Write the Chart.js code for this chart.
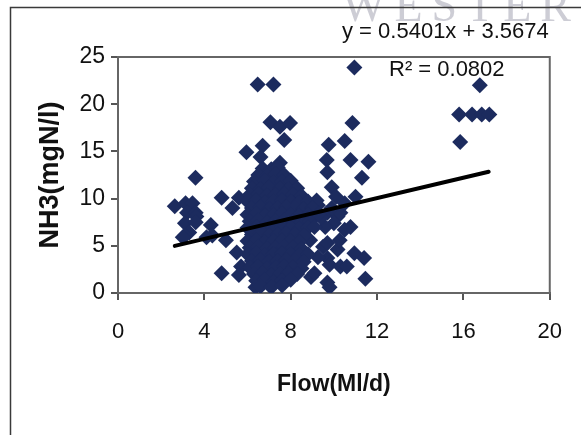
<!DOCTYPE html>
<html><head><meta charset="utf-8">
<script src="https://cdn.jsdelivr.net/npm/chart.js@4/dist/chart.umd.min.js"></script>
<style>html,body{margin:0;padding:0;background:#fff}#wrap{width:581px;height:435px}</style>
</head><body><div id="wrap"><canvas id="c" width="581" height="435"></canvas></div>
<script>
// Tick labels
const xTicks = [0, 4, 8, 12, 16, 20];
const yTicks = [0, 5, 10, 15, 20, 25];

// Scattered (readable) points: flow (Ml/d) and NH3 (mgN/l)
const flowSparse = [2.63,3.13,3.45,3.59,3.2,3.6,3.63,3.1,3.6,3.3,3.1,3.0,4.3,4.37,4.1,4.8,5.3,5.6,5.0,4.8,5.5,5.7,5.6,6.37,
  5.95,6.47,7.2,7.06,7.5,7.97,7.7,6.7,6.6,7.5,
  10.95,10.86,10.5,9.76,9.67,10.77,11.6,9.7,11.3,9.9,11.0,10.1,8.5,9.26,9.7,10.17,10.3,10.77,9.5,9.7,10.17,10.27,10.95,11.4,9.7,9.8,10.3,10.6,11.46,9.7,9.8,8.94,9.1,9.26,8.9,8.35,7.9,
  9.9,10.0,9.6,9.4,10.5,10.5,
  15.8,16.4,16.85,17.2,16.76,15.85];
const nh3Sparse = [9.2,9.5,9.5,12.2,8.5,8.5,8.1,7.4,7.5,6.4,6.1,5.9,7.2,6.1,5.9,10.1,9.0,10.1,5.6,2.1,4.3,2.8,1.9,0.6,
  14.9,22.1,22.1,18.1,17.6,18.0,16.2,15.6,14.4,13.8,
  23.9,18.0,16.1,15.7,14.1,14.1,13.9,12.8,12.2,11.2,10.2,10.2,10.2,9.3,8.5,8.1,8.5,7.0,4.9,5.3,4.6,5.6,4.2,3.7,3.7,3.0,2.8,2.8,1.5,1.1,0.6,1.7,2.1,3.8,5.6,2.4,2.4,
  9.0,7.4,7.0,8.0,9.5,6.7,
  18.9,18.9,18.9,18.9,22.0,16.0];

// Dense cluster (estimated from the solid blob around 6-9 Ml/d)
const flowDense = [6.7,7.1,7.4,
  6.5,6.9,7.3,7.7,
  6.3,6.8,7.2,7.6,8.0,
  6.2,6.6,7.0,7.5,7.9,8.3,
  6.1,6.5,6.9,7.3,7.7,8.1,8.5,
  6.0,6.4,6.8,7.2,7.6,8.0,8.4,8.8,9.2,
  6.2,6.6,7.0,7.4,7.8,8.2,8.6,9.0,
  6.0,6.4,6.8,7.2,7.6,8.0,8.4,8.8,9.3,
  6.1,6.5,6.9,7.3,7.7,8.1,8.5,8.9,
  6.0,6.4,6.8,7.2,7.6,8.0,8.4,8.8,9.1,
  6.2,6.6,7.0,7.4,7.8,8.2,8.6,
  6.0,6.4,6.8,7.2,7.6,8.0,8.4,
  6.1,6.5,6.9,7.3,7.7,8.1,8.5,
  6.0,6.4,6.8,7.2,7.6,8.0,8.4,8.8,
  6.2,6.6,7.0,7.4,7.8,8.2,8.6,
  6.1,6.5,6.9,7.3,7.7,8.1,8.5,
  6.3,6.7,7.1,7.5,7.9,8.3,
  6.4,6.8,7.2,7.6,8.0,
  6.6,7.1,7.6];
const nh3Dense = [13.2,13.1,13.3,
  12.5,12.4,12.6,12.5,
  11.8,11.9,11.7,11.8,11.9,
  11.1,11.0,11.2,11.1,11.0,11.1,
  10.4,10.5,10.3,10.4,10.5,10.4,10.3,
  9.7,9.8,9.6,9.7,9.8,9.7,9.6,9.7,9.8,
  9.0,9.1,8.9,9.0,9.1,9.0,8.9,9.0,
  8.3,8.4,8.2,8.3,8.4,8.3,8.2,8.3,8.4,
  7.6,7.7,7.5,7.6,7.7,7.6,7.5,7.6,
  6.9,7.0,6.8,6.9,7.0,6.9,6.8,6.9,7.0,
  6.2,6.3,6.1,6.2,6.3,6.2,6.1,
  5.5,5.6,5.4,5.5,5.6,5.5,5.4,
  4.8,4.9,4.7,4.8,4.9,4.8,4.7,
  4.1,4.2,4.0,4.1,4.2,4.1,4.0,4.1,
  3.4,3.5,3.3,3.4,3.5,3.4,3.3,
  2.7,2.8,2.6,2.7,2.8,2.7,2.6,
  2.0,2.1,1.9,2.0,2.1,2.0,
  1.3,1.4,1.2,1.3,1.4,
  0.7,0.6,0.8];

// Trendline end points
const trendFlow = [2.63, 17.17];
const trendNH3 = [4.99, 12.84];

const equationText = 'y = 0.5401x + 3.5674';
const r2Text = 'R\u00B2 = 0.0802';
const xTitle = 'Flow(Ml/d)';
const yTitle = 'NH3(mgN/l)';
const watermark = 'WESTERN';

const pts = [];
flowSparse.forEach((f, i) => pts.push({x: f, y: nh3Sparse[i]}));
flowDense.forEach((f, i) => pts.push({x: f, y: nh3Dense[i]}));
const trend = trendFlow.map((f, i) => ({x: f, y: trendNH3[i]}));

const FONT = "'Liberation Sans', Arial, sans-serif";

const decor = {
  id: 'decor',
  beforeDraw(chart) {
    const ctx = chart.ctx;
    ctx.save();
    ctx.fillStyle = '#ffffff';
    ctx.fillRect(0, 0, chart.width, chart.height);
    // watermark
    ctx.font = "46px 'Liberation Serif', serif";
    ctx.fillStyle = 'rgba(130,130,150,0.4)';
    ctx.textBaseline = 'alphabetic';
    try { ctx.letterSpacing = '9px'; } catch (e) {}
    ctx.fillText(watermark, 342, 21);
    try { ctx.letterSpacing = '0px'; } catch (e) {}
    // outer frame
    ctx.strokeStyle = '#3a3a3a';
    ctx.lineWidth = 1.5;
    ctx.beginPath();
    ctx.moveTo(10.5, 435);
    ctx.lineTo(10.5, 7.5);
    ctx.lineTo(581, 7.5);
    ctx.stroke();
    ctx.restore();
  },
  beforeDatasetsDraw(chart) {
    const a = chart.chartArea, ctx = chart.ctx;
    ctx.save();
    ctx.strokeStyle = '#666';
    ctx.lineWidth = 2;
    ctx.strokeRect(a.left, a.top, a.right - a.left, a.bottom - a.top);
    ctx.restore();
  },
  afterDraw(chart) {
    const ctx = chart.ctx;
    ctx.save();
    ctx.fillStyle = '#111';
    ctx.textBaseline = 'alphabetic';
    ctx.font = '22px ' + FONT;
    ctx.fillText(equationText, 342, 38);
    ctx.fillText(r2Text, 389, 76);
    ctx.restore();
  }
};

new Chart(document.getElementById('c'), {
  type: 'scatter',
  data: {
    datasets: [
      {
        type: 'line', data: trend, borderColor: '#000', borderWidth: 4,
        pointRadius: 0, fill: false, order: 0, borderCapStyle: 'round'
      },
      {
        data: pts, pointStyle: 'rectRot', pointRadius: 8,
        backgroundColor: '#1c2b5e', borderColor: '#1c2b5e', borderWidth: 0, order: 1
      }
    ]
  },
  options: {
    responsive: false, animation: false, devicePixelRatio: 1,
    layout: {padding: {left: 0, top: 57, right: 26, bottom: 0}},
    plugins: {legend: {display: false}, tooltip: {enabled: false}},
    scales: {
      x: {
        type: 'linear', min: 0, max: 20,
        afterBuildTicks: s => { s.ticks = xTicks.map(v => ({value: v})); },
        afterFit: s => { s.height = 142; },
        ticks: {color: '#111', font: {family: FONT, size: 22}, padding: 19, maxRotation: 0},
        grid: {drawOnChartArea: false, drawTicks: true, tickLength: 7, color: '#555', lineWidth: 2},
        border: {display: true, color: '#555', width: 2},
        title: {display: true, text: xTitle, color: '#111', font: {family: FONT, size: 23, weight: 'bold'}, padding: {top: 0, bottom: 37}}
      },
      y: {
        type: 'linear', min: 0, max: 25,
        afterBuildTicks: s => { s.ticks = yTicks.map(v => ({value: v})); },
        afterFit: s => { s.width = 118; },
        ticks: {color: '#111', font: {family: FONT, size: 23}, padding: 6},
        grid: {drawOnChartArea: false, drawTicks: true, tickLength: 7, color: '#555', lineWidth: 2},
        border: {display: true, color: '#555', width: 2},
        title: {display: true, text: yTitle, color: '#111', font: {family: FONT, size: 27, weight: 'bold'}, padding: {top: 34, bottom: 0}}
      }
    }
  },
  plugins: [decor]
});
</script></body></html>
